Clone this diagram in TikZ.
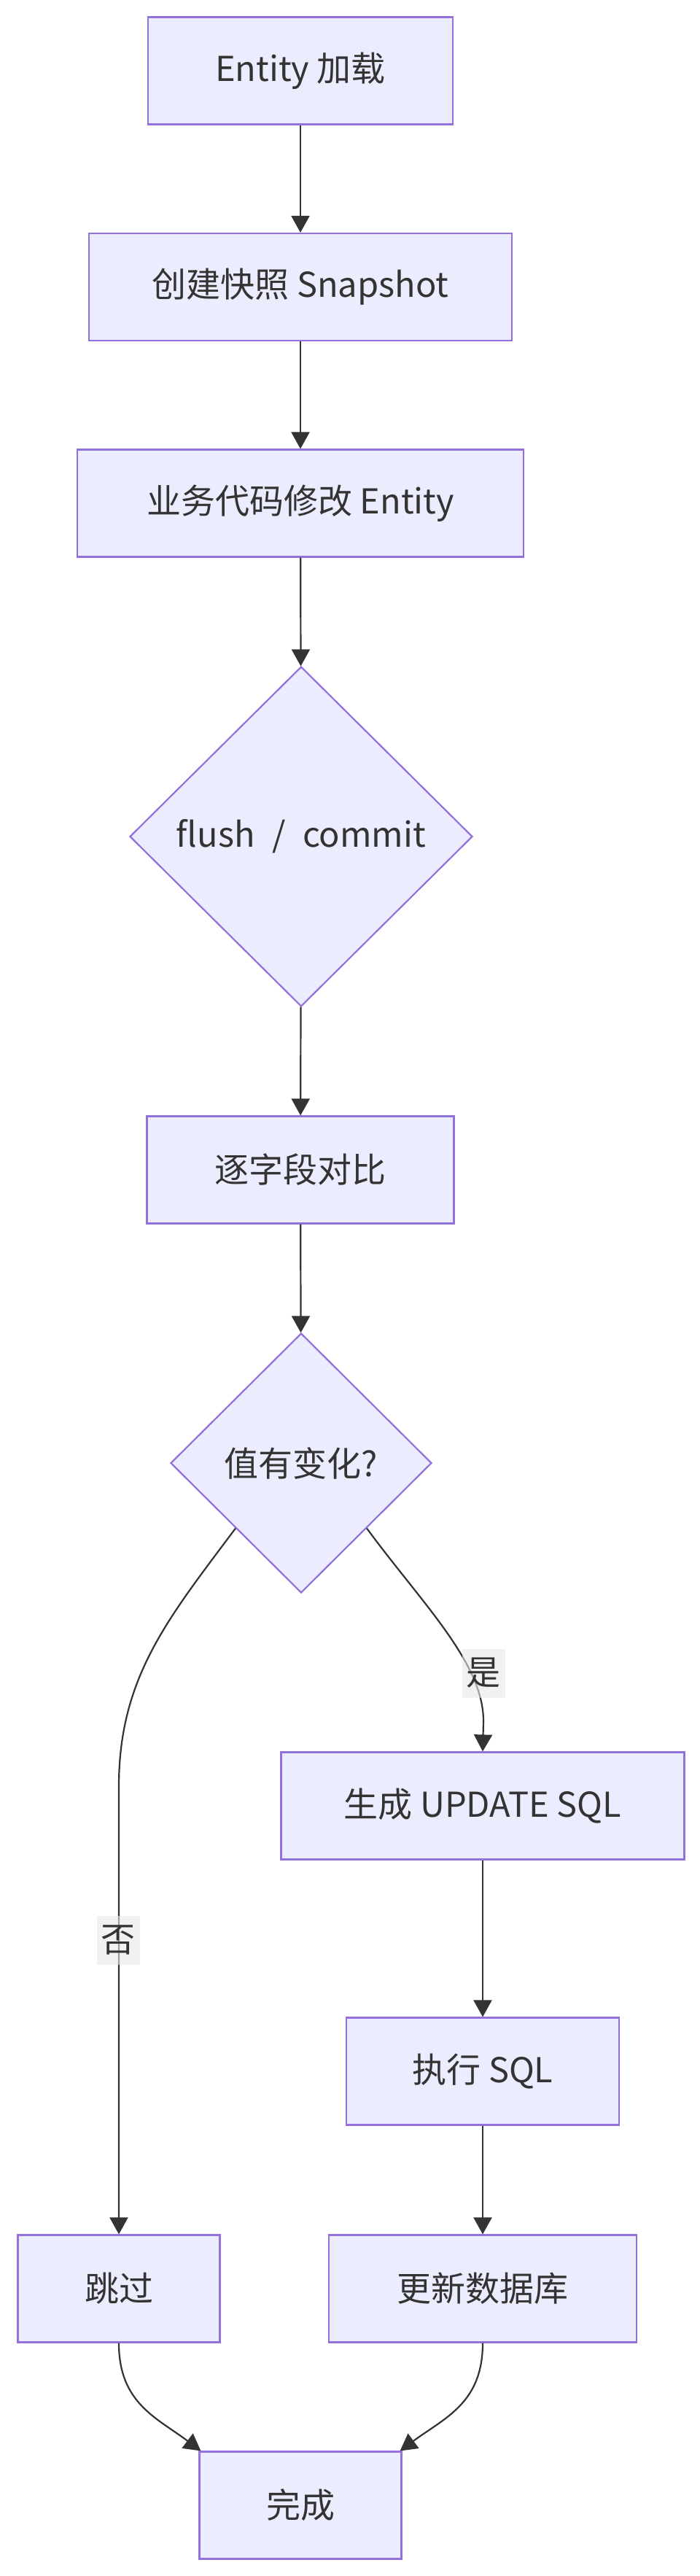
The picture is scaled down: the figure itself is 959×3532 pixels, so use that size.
\documentclass[tikz,border=0pt]{standalone}
\usepackage{fontspec}
\setmainfont{Noto Sans CJK SC}
\usetikzlibrary{shapes.geometric,arrows.meta}
\definecolor{nodefill}{HTML}{ECECFF}
\definecolor{nodeborder}{HTML}{9370DB}
\definecolor{linecol}{HTML}{333333}
\definecolor{labelbg}{HTML}{E8E8E8}
\tikzset{
  box/.style={draw=nodeborder, fill=nodefill, line width=2.2pt, rectangle, inner sep=0pt, minimum height=147pt, text=linecol, font=\fontsize{47pt}{56pt}\selectfont},
  decision/.style={draw=nodeborder, fill=nodefill, line width=2.2pt, diamond, inner sep=0pt, text=linecol, font=\fontsize{47pt}{56pt}\selectfont},
  flow/.style={draw=linecol, line width=2.2pt, -{Triangle[length=23pt,width=25pt]}},
  elabel/.style={fill=labelbg, fill opacity=0.6, text opacity=1, text=linecol, inner sep=0pt, minimum width=59pt, minimum height=67pt, font=\fontsize{47pt}{56pt}\selectfont}
}
\begin{document}
\begin{tikzpicture}[x=1pt,y=-1pt]
\useasboundingbox (0,0) rectangle (959,3532);
\node[box, minimum width=418pt] (n1) at (412,97) {Entity 加载};
\node[box, minimum width=580pt] (n2) at (412,393.5) {创建快照 Snapshot};
\node[box, minimum width=612pt] (n3) at (412,690) {业务代码修改 Entity};
\node[decision, minimum width=470pt, minimum height=466pt] (d1) at (413,1147) {flush\enspace/\enspace commit};
\node[box, minimum width=421pt] (n4) at (412,1604) {逐字段对比};
\node[decision, minimum width=358pt, minimum height=356pt] (d2) at (413,2006) {值有变化?};
\node[box, minimum width=553pt] (n5) at (662,2476) {生成 UPDATE SQL};
\node[box, minimum width=374pt] (n6) at (662,2840) {执行 SQL};
\node[box, minimum width=277pt] (n7) at (163,3138) {跳过};
\node[box, minimum width=422pt] (n8) at (662,3138) {更新数据库};
\node[box, minimum width=277pt] (n9) at (412,3435) {完成};

\coordinate (noA) at (163,2450);
\coordinate (yesA) at (663,2360);
\coordinate (tipL) at ([xshift=3pt]n9.north west);
\coordinate (tipR) at ([xshift=-3pt]n9.north east);

\draw[flow] (n1) -- (n2);
\draw[flow] (n2) -- (n3);
\draw[flow] (n3) -- (d1);
\draw[flow] (d1) -- (n4);
\draw[flow] (n4) -- (d2);
\draw[flow] (d2.south west) .. controls (230,2220) and (163,2300) .. (noA) -- (n7.north);
\draw[flow] (d2.south east) .. controls (580,2200) and (663,2280) .. (yesA) -- (n5.north);
\draw[flow] (n5) -- (n6);
\draw[flow] (n6) -- (n8);
\draw[flow] (n7.south) .. controls (163,3295) and (215,3315) .. (tipL);
\draw[flow] (n8.south) .. controls (662,3295) and (610,3315) .. (tipR);

\node[elabel] (lno) at (162,2660) {否};
\node[elabel] (lyes) at (663,2294) {是};
\end{tikzpicture}
\end{document}
